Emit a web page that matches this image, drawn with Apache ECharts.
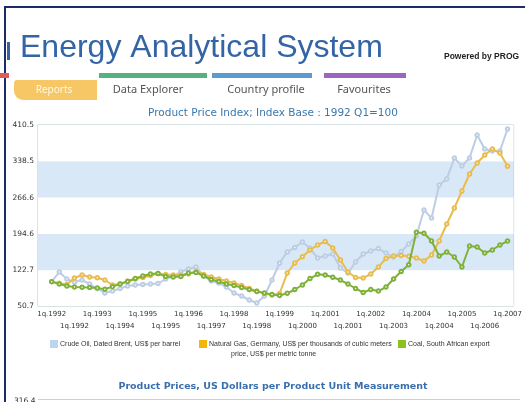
<!DOCTYPE html>
<html><head><meta charset="utf-8">
<script src="https://cdn.jsdelivr.net/npm/echarts@6/dist/echarts.min.js"></script>
<style>html,body{margin:0;padding:0;background:#fff;overflow:hidden}#c{width:525px;height:402px;}</style>
</head><body><div id="c"></div>
<script>
// ---- data ----
const xTickLabels = ['1q.1992','1q.1992','1q.1993','1q.1994','1q.1995','1q.1995','1q.1996','1q.1997','1q.1998','1q.1998','1q.1999','1q.2000','1q.2001','1q.2001','1q.2002','1q.2003','1q.2004','1q.2004','1q.2005','1q.2006','1q.2007'];
const yTickLabels = ['50.7','122.7','194.6','266.6','338.5','410.5'];
const Y_MIN = 50.7, Y_MAX = 410.5, Y_STEP = 71.96;
const seriesNames = ['Crude Oil, Dated Brent, US$ per barrel','Natural Gas, Germany, US$ per thousands of cubic meters','Coal, South African export'];
const crudeOil = [100,119.1,105,99.3,103.2,95.3,86.4,77.5,81.4,86.4,91.3,93.3,94.3,95.3,96.3,105.2,111.2,119.1,125,129,111.2,101.2,97.3,89.3,77.5,71.5,63.6,57.6,71.5,103.2,136.9,158.7,167.6,178.5,166.6,146.8,150.8,154.8,127,117,138.9,154.8,160.7,165.7,156.7,148.8,159.7,174.6,190.4,242,226,291.5,303.4,345,329,345,390.6,362.9,359,359,402.5];
const naturalGas = [100,96.7,94.3,107.2,113.1,109.2,107.8,103.2,93.3,95.3,101.2,105.2,108.2,112.1,116.1,114.1,113.1,113.1,115.1,120,114.1,109.2,105.2,101.2,97.3,92.3,86.4,81.4,76.5,73.5,76.5,117,136.9,149.4,162.7,172.6,179.5,166.6,142.9,119.1,108.2,107.2,115.1,129,145.8,150.8,151.8,150.2,146.8,140.9,152.8,180.5,214.2,245.9,279.6,313.3,335.1,351,362.9,355,328.6];
const coal = [100,95.3,91.3,89.3,88.8,88.4,87.4,84.8,90,95.3,100.3,106.2,111.2,115.1,116,110.2,109.2,110.2,117.1,118.1,111.2,104.2,100.3,95.3,92.3,88.4,84.4,80.4,77.5,74.5,72.5,76.9,84.4,93.3,106.2,114.5,113.1,108.6,103.2,95.3,86.4,78.4,84.4,81.4,89.3,105.2,120,133.5,198,196,180.5,150.8,158.7,148.8,129,170.6,168.6,156.7,162.7,172.6,180.5];

const lineColors = ['#bccde4','#e8bd4e','#7fb13a'];
const legendColors = ['#bcd6f0','#f2b705','#8cc21e'];
const legendLeft = [45, 194, 393];
const evenTicks = xTickLabels.map((_, k) => k * 3).filter((_, k) => k % 2 === 0);
const oddTicks = xTickLabels.map((_, k) => k * 3).filter((_, k) => k % 2 === 1);

function toPairs(arr){ return arr.map((v,i)=>[i, v - Y_MIN]); }

const chart = echarts.init(document.getElementById('c'), null, {renderer:'canvas'});
const tf = 'DejaVu Sans';
const lf = 'Liberation Sans';
function xAxisFor(values, margin){
  return {type:'value', min:-1.8, max:60.8, position:'bottom',
    axisLine:{show:false}, axisTick:{show:false}, splitLine:{show:false},
    axisLabel:{customValues:values, showMinLabel:true, showMaxLabel:true, hideOverlap:false,
      fontSize:7, color:'#333', fontFamily:tf, margin:margin,
      formatter:(v)=>xTickLabels[Math.round(v/3)]}};
}
chart.setOption({
  animation:false,
  backgroundColor:'#ffffff',
  title:[
    {text:'Product Price Index; Index Base : 1992 Q1=100', left:268, textAlign:'center', top:103,
     textStyle:{color:'#3a78ad', fontSize:10.5, fontWeight:'normal', fontFamily:tf}},
    {text:'Product Prices, US Dollars per Product Unit Measurement', left:268, textAlign:'center', top:377,
     textStyle:{color:'#3a6fae', fontSize:9.5, fontWeight:'bold', fontFamily:tf}}
  ],
  grid:{left:38, right:8, top:125, bottom:95.5, show:true, borderColor:'#b3c9cd', borderWidth:1, backgroundColor:'transparent'},
  legend:seriesNames.map((n,i)=>({left:legendLeft[i], top:335, itemWidth:8, itemHeight:8, icon:'rect',
    textStyle:{fontSize:7, color:'#333', fontFamily:lf, padding:[0,0,0,-3]},
    data:[{name:n, itemStyle:{color:legendColors[i], borderWidth:0}}]})),
  xAxis:[xAxisFor(evenTicks, 4), xAxisFor(oddTicks, 16)],
  yAxis:{type:'value', min:0, max:Y_MAX-Y_MIN, interval:Y_STEP,
    axisLine:{show:false}, axisTick:{show:false}, splitLine:{show:false},
    splitArea:{show:true, areaStyle:{color:['#ffffff','#d9e8f7']}},
    axisLabel:{fontSize:7.5, color:'#333', fontFamily:tf, margin:4,
      formatter:(v)=>yTickLabels[Math.round(v/Y_STEP)]}},
  series:[crudeOil, naturalGas, coal].map((arr,i)=>({
    name:seriesNames[i], type:'line', data:toPairs(arr), z:2+i, xAxisIndex:0,
    symbol:'emptyCircle', symbolSize:3.5, showSymbol:true,
    lineStyle:{width:2, color:lineColors[i]},
    itemStyle:{color:lineColors[i], borderWidth:1}
  })),
  graphic:[
    {type:'rect', shape:{x:5,y:6,width:520,height:2}, style:{fill:'#1b2b6b'}},
    {type:'rect', shape:{x:4,y:6,width:2,height:396}, style:{fill:'#1b2b6b'}},
    {type:'rect', shape:{x:7,y:42,width:3,height:18}, style:{fill:'#3364a6'}},
    {type:'text', left:20, top:32, style:{text:'Energy Analytical System', fill:'#3364a6', font:'32px "Liberation Sans"'}},
    {type:'text', left:444, top:52, style:{text:'Powered by PROG', fill:'#222', font:'bold 8.5px "Liberation Sans"'}},
    {type:'rect', shape:{x:0,y:73,width:9,height:5}, style:{fill:'#e35a5a'}},
    {type:'rect', shape:{x:99,y:73,width:108,height:5}, style:{fill:'#55b27e'}},
    {type:'rect', shape:{x:212,y:73,width:100,height:5}, style:{fill:'#5b9bd2'}},
    {type:'rect', shape:{x:324,y:73,width:82,height:5}, style:{fill:'#9b66c2'}},
    {type:'rect', shape:{x:14,y:80,width:83,height:20, r:[3,0,0,9]}, style:{fill:'#f7c766'}},
    {type:'text', x:54, y:90, style:{text:'Reports', fill:'#fff7e6', font:'10px "Noto Sans"', align:'center', verticalAlign:'middle'}},
    {type:'text', x:148, y:90, style:{text:'Data Explorer', fill:'#555', font:'11px "Noto Sans"', align:'center', verticalAlign:'middle'}},
    {type:'text', x:266, y:90, style:{text:'Country profile', fill:'#555', font:'11px "Noto Sans"', align:'center', verticalAlign:'middle'}},
    {type:'text', x:364, y:90, style:{text:'Favourites', fill:'#555', font:'11px "Noto Sans"', align:'center', verticalAlign:'middle'}},
    {type:'text', x:231, y:351, style:{text:'price, US$ per metric tonne', fill:'#333', font:'7px "Liberation Sans"'}},
    {type:'rect', shape:{x:38,y:399,width:482,height:1}, style:{fill:'#c8d2d6'}},
    {type:'text', x:14, y:397, style:{text:'316.4', fill:'#333', font:'7.5px "DejaVu Sans"'}}
  ]
});
</script></body></html>
